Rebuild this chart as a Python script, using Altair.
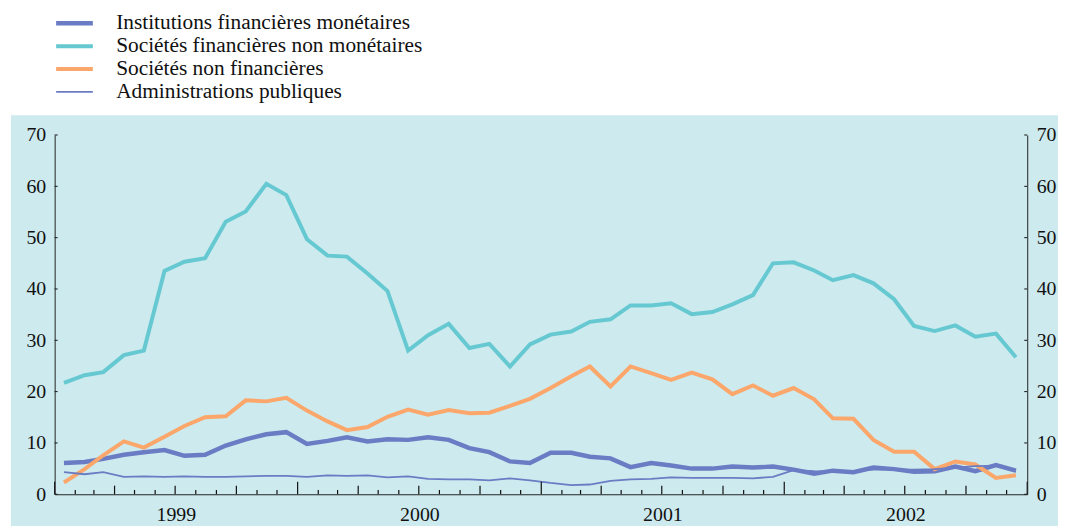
import altair as alt
import pandas as pd

# ---------------- data ----------------
series_names = [
    "Institutions financières monétaires",
    "Sociétés financières non monétaires",
    "Sociétés non financières",
    "Administrations publiques",
]
years = [1999, 2000, 2001, 2002]

ifm = [6.1, 6.3, 6.9, 7.7, 8.2, 8.6, 7.5, 7.7, 9.5, 10.7, 11.7, 12.1,
       9.8, 10.4, 11.1, 10.3, 10.7, 10.6, 11.1, 10.6, 9.0, 8.2, 6.4, 6.1,
       8.1, 8.1, 7.3, 7.0, 5.3, 6.1, 5.6, 5.0, 5.0, 5.4, 5.2, 5.4,
       4.8, 4.0, 4.6, 4.3, 5.2, 4.9, 4.4, 4.5, 5.4, 4.5, 5.7, 4.6]
sfnm = [21.7, 23.2, 23.8, 27.1, 28.0, 43.5, 45.3, 46.0, 53.1, 55.1, 60.5, 58.3,
        49.7, 46.5, 46.3, 43.0, 39.6, 28.0, 31.0, 33.2, 28.5, 29.3, 24.9, 29.2,
        31.1, 31.7, 33.6, 34.1, 36.8, 36.8, 37.2, 35.1, 35.5, 37.0, 38.8, 45.0,
        45.2, 43.6, 41.7, 42.7, 41.1, 38.0, 32.8, 31.8, 32.9, 30.7, 31.3, 26.7]
snf = [2.3, 4.9, 7.6, 10.3, 9.1, 11.2, 13.3, 15.0, 15.2, 18.3, 18.1, 18.8,
       16.3, 14.2, 12.5, 13.1, 15.1, 16.5, 15.5, 16.4, 15.8, 15.9, 17.2, 18.6,
       20.7, 23.0, 24.9, 21.0, 24.9, 23.6, 22.3, 23.7, 22.4, 19.5, 21.2, 19.2,
       20.7, 18.5, 14.8, 14.7, 10.6, 8.3, 8.3, 4.9, 6.4, 5.8, 3.2, 3.7]
ap = [4.3, 3.9, 4.3, 3.4, 3.5, 3.4, 3.5, 3.4, 3.4, 3.5, 3.6, 3.6,
      3.4, 3.7, 3.6, 3.7, 3.3, 3.5, 3.0, 2.9, 2.9, 2.7, 3.1, 2.7,
      2.2, 1.8, 1.9, 2.6, 2.9, 3.0, 3.3, 3.2, 3.2, 3.2, 3.1, 3.4,
      4.7, 4.5, 4.4, 4.5, 4.8, 4.8, 4.8, 4.9, 5.2, 5.5, 5.6, 4.4]
y_ticks = [0, 10, 20, 30, 40, 50, 60, 70]

# mid-month dates for each observation
dates = [pd.Timestamp(year=y, month=m, day=15) for y in years for m in range(1, 13)]

rows = []
for name, vals in zip(series_names, [ifm, sfnm, snf, ap]):
    for d, v in zip(dates, vals):
        rows.append({"date": d, "value": v, "serie": name})
df = pd.DataFrame(rows)

# month starts for the axis ticks
month_starts = [pd.Timestamp(year=y, month=m, day=1) for y in years for m in range(1, 13)]
month_starts.append(pd.Timestamp(year=2003, month=1, day=1))
tick_df = pd.DataFrame({
    "date": month_starts,
    "kind": ["year" if d.month == 1 else ("quarter" if d.month in (4, 7, 10) else "month")
             for d in month_starts],
})
ytick_df = pd.DataFrame({"v": y_ticks})

# ---------------- style ----------------
W, H = 980, 362
FONT = "Liberation Serif"
BG = "#cdeaee"
AXC = "#222222"
TXT = "#111111"
colors = ["#6a7cc4", "#66c9d2", "#fba76c", "#6a7cc4"]
widths = [4.5, 4, 4, 1.8]

x_scale = alt.Scale(domain=[alt.DateTime(year=1999, month=1, date=1),
                            alt.DateTime(year=2003, month=1, date=1)])
y_scale = alt.Scale(domain=[0, 70])

x_axis = alt.Axis(values=[alt.DateTime(year=y, month=7, date=2) for y in years],
                  format="%Y", ticks=False, tickSize=0, domain=True,
                  domainColor=AXC, domainWidth=1, labelFont=FONT, labelFontSize=20,
                  labelColor=TXT, labelPadding=10, grid=False, title=None,
                  labelFlush=False, zindex=2)


def y_axis(orient):
    return alt.Axis(values=y_ticks, orient=orient, ticks=False, tickSize=0,
                    domain=True, domainColor=AXC, domainWidth=1, labelFont=FONT,
                    labelFontSize=20, labelColor=TXT, labelPadding=9,
                    grid=False, title=None, zindex=2)


bg = alt.Chart(pd.DataFrame({"a": [0]})).mark_rect(color=BG).encode(
    x=alt.value(-44), x2=alt.value(W + 80), y=alt.value(-20), y2=alt.value(H + 80)
)

lines = alt.Chart(df).mark_line(strokeJoin="miter").encode(
    x=alt.X("date:T", scale=x_scale, axis=x_axis),
    y=alt.Y("value:Q", scale=y_scale, axis=y_axis("left")),
    color=alt.Color("serie:N", sort=series_names,
                    scale=alt.Scale(domain=series_names, range=colors),
                    legend=alt.Legend(title=None, orient="none", legendX=-1, legendY=-124)),
    strokeWidth=alt.StrokeWidth("serie:N", sort=series_names,
                                scale=alt.Scale(type="ordinal", domain=series_names,
                                                range=widths),
                                legend=alt.Legend(title=None, orient="none", legendX=-1,
                                                  legendY=-124)),
    order=alt.Order("date:T"),
    detail="serie:N",
)


def xticks(kind, length):
    return alt.Chart(tick_df).transform_filter(alt.datum.kind == kind).mark_rule(
        color=TXT, strokeWidth=1.2
    ).encode(
        x=alt.X("date:T", scale=x_scale, axis=x_axis),
        y=alt.value(H), y2=alt.value(H - length),
    )


left_ticks = alt.Chart(ytick_df).mark_rule(color=TXT, strokeWidth=1).encode(
    y=alt.Y("v:Q", scale=y_scale, axis=None), x=alt.value(0), x2=alt.value(3)
)
right_ticks = alt.Chart(ytick_df).mark_rule(color=TXT, strokeWidth=1).encode(
    y=alt.Y("v:Q", scale=y_scale, axis=y_axis("right")),
    x=alt.value(W - 3), x2=alt.value(W),
)

chart = alt.layer(
    bg, lines, xticks("month", 4.3), xticks("quarter", 8.7), xticks("year", 12.7),
    left_ticks, right_ticks
).resolve_axis(y="independent").properties(
    width=W, height=H,
    autosize=alt.AutoSizeParams(type="none"),
    padding={"left": 47, "top": 126, "right": 31, "bottom": 30},
    background="white",
).configure_view(stroke=None).configure_axis(
    labelFont=FONT, labelFontSize=20, labelColor=TXT,
).configure_legend(
    symbolType="stroke", symbolSize=1369, clipHeight=23, rowPadding=0,
    labelOffset=21, labelFont=FONT, labelFontSize=21.5, labelColor=TXT,
    labelLimit=500, padding=0, symbolOpacity=1,
)

chart.save("out.html", embed_options={"renderer": "svg", "actions": False})
